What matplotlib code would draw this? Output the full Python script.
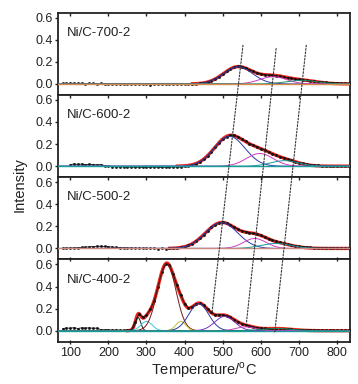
import numpy as np
import matplotlib
matplotlib.use("Agg")
import matplotlib.pyplot as plt
from matplotlib.patches import ConnectionPatch

plt.rcParams['font.family'] = ['Liberation Sans', 'DejaVu Sans']

samples = ["Ni/C-700-2", "Ni/C-600-2", "Ni/C-500-2", "Ni/C-400-2"]
temps = np.arange(80, 850, 10)

# measured TPR signal, one value per 10 degC from 80 to 840
exp_700 = [0.005, 0.004, 0.006, 0.005, 0.004, 0.006, 0.003, 0.005, 0.004, 0.002,
           0.004, 0.003, 0.001, 0.003, 0.002, 0.000, 0.002, 0.001, -0.001, 0.003,
           0.001, -0.002, -0.004, -0.006, -0.003, -0.005, -0.002, -0.004, -0.003, 0.001,
           -0.002, 0.002, -0.003, -0.004, -0.002, 0.002, 0.006, 0.010, 0.018, 0.030,
           0.046, 0.066, 0.090, 0.114, 0.136, 0.152, 0.158, 0.156, 0.145, 0.128,
           0.113, 0.100, 0.090, 0.085, 0.080, 0.078, 0.074, 0.068, 0.062, 0.055,
           0.050, 0.044, 0.040, 0.036, 0.032, 0.028, 0.024, 0.020, 0.018, 0.014,
           0.012, 0.010, 0.009, 0.007, 0.006, 0.005, 0.005]
exp_600 = [np.nan, np.nan, 0.014, 0.020, 0.016, 0.019, 0.013, 0.017, 0.015, 0.012,
           0.014, 0.006, -0.002, -0.006, -0.004, -0.008, -0.006, -0.010, -0.007, -0.011,
           -0.008, -0.012, -0.009, -0.011, -0.008, -0.010, -0.012, -0.009, -0.010, -0.007,
           -0.008, -0.004, 0.002, 0.006, 0.012, 0.022, 0.040, 0.064, 0.094, 0.131,
           0.172, 0.211, 0.244, 0.266, 0.280, 0.278, 0.266, 0.245, 0.224, 0.205,
           0.189, 0.174, 0.160, 0.145, 0.128, 0.113, 0.099, 0.086, 0.074, 0.063,
           0.052, 0.042, 0.033, 0.025, 0.018, 0.013, 0.010, 0.008, 0.006, 0.004,
           0.002, 0.000, -0.002, 0.001, -0.001, 0.000, -0.001]
exp_500 = [0.002, 0.003, 0.004, 0.005, 0.007, 0.009, 0.012, 0.015, 0.017, 0.019,
           0.020, 0.018, 0.016, 0.013, 0.010, 0.008, 0.006, 0.005, 0.004, 0.003,
           0.002, 0.002, 0.001, 0.000, 0.001, -0.001, 0.000, -0.001, 0.000, 0.002,
           0.005, 0.009, 0.016, 0.027, 0.044, 0.066, 0.093, 0.125, 0.159, 0.190,
           0.216, 0.231, 0.236, 0.228, 0.211, 0.193, 0.175, 0.160, 0.150, 0.144,
           0.137, 0.129, 0.118, 0.103, 0.088, 0.075, 0.063, 0.054, 0.046, 0.038,
           0.031, 0.025, 0.020, 0.016, 0.013, 0.010, 0.008, 0.007, 0.006, 0.005,
           0.004, 0.004, 0.003, 0.003, 0.002, 0.002, 0.002]
exp_400 = [0.018, 0.025, 0.022, 0.028, 0.020, 0.026, 0.023, 0.027, 0.021, 0.024,
           0.010, 0.008, 0.009, 0.006, 0.008, 0.005, 0.006, 0.004, 0.010, 0.078,
           0.150, 0.125, 0.142, 0.193, 0.270, 0.395, 0.528, 0.603, 0.596, 0.512,
           0.410, 0.322, 0.245, 0.208, 0.218, 0.240, 0.248, 0.231, 0.196, 0.165,
           0.146, 0.143, 0.143, 0.137, 0.121, 0.101, 0.080, 0.064, 0.053, 0.043,
           0.035, 0.028, 0.024, 0.021, 0.020, 0.019, 0.020, 0.018, 0.017, 0.015,
           0.013, 0.011, 0.009, 0.008, 0.006, 0.005, 0.005, 0.004, 0.004, 0.003,
           0.003, 0.003, 0.002, 0.002, 0.002, 0.002, 0.002]
measured = [exp_700, exp_600, exp_500, exp_400]

# fitted gaussian peaks: centre (degC), height, sigma (degC), colour
peaks_700 = [(540, 0.155, 38, "#2b3aa8"), (632, 0.065, 35, "#d03cc0"), (706, 0.032, 40, "#1d8f6f")]
peaks_600 = [(518, 0.27, 40, "#2b3aa8"), (597, 0.115, 35, "#d03cc0"), (662, 0.05, 36, "#1a9a9a")]
peaks_500 = [(497, 0.234, 42, "#2b3aa8"), (584, 0.09, 30, "#d03cc0"), (640, 0.045, 40, "#1a9a9a")]
peaks_400 = [(278, 0.12, 7, "#1a1a1a"), (300, 0.085, 15, "#3cc8dc"), (353, 0.61, 24, "#7a1515"),
             (390, 0.085, 13, "#c8c030"), (437, 0.245, 26, "#2b3aa8"), (505, 0.13, 26, "#7a30c0"),
             (560, 0.035, 25, "#d03cc0"), (640, 0.02, 40, "#1d8f6f")]
peak_sets = [peaks_700, peaks_600, peaks_500, peaks_400]
fit_start = [420, 380, 360, 250]
baseline_colors = ["#d98c4a", "#1a9a9a", "#c98a84", "#1a9a9a"]

# guide lines: (T, y) in top panel -> (T, y) in bottom panel
guides = [((553, 0.35), (472, 0.17)), ((640, 0.32), (562, 0.07)), ((719, 0.35), (636, -0.025))]

fig, axes = plt.subplots(4, 1, sharex=True, figsize=(3.58, 3.84), dpi=100)
fig.subplots_adjust(left=0.162, right=0.977, top=0.967, bottom=0.110, hspace=0)

tgrid = np.linspace(68, 835, 800)
for ax, name, vals, peaks, t0, bc in zip(axes, samples, measured, peak_sets, fit_start, baseline_colors):
    comps = [h * np.exp(-(tgrid - c) ** 2 / (2 * s ** 2)) for c, h, s, col in peaks]
    total = np.sum(comps, axis=0)
    m = tgrid >= t0
    ax.plot(tgrid[m], total[m], color="#e8241c", lw=2.4, zorder=2)
    ax.plot(temps, vals, color="#111111", lw=0.6, marker="s", ms=0.9, zorder=3)
    for (c, h, s, col), y in zip(peaks, comps):
        ax.plot(tgrid, y, color=col, lw=0.7, zorder=4)
    ax.axhline(0, color=bc, lw=1.0, zorder=5)
    ax.text(0.031, 0.755, name, transform=ax.transAxes, fontsize=9.5, va="center", color="#222222")
    ax.set_ylim(-0.1, 0.645)
    ax.set_yticks([0.0, 0.2, 0.4, 0.6])
    ax.set_yticklabels(["0.0", "0.2", "0.4", "0.6"])
    ax.tick_params(axis="y", direction="out", length=2.5, width=1, labelsize=9, pad=1, colors="#222222")
    ax.tick_params(axis="x", which="major", direction="in", top=True, bottom=False, length=2.5, width=1,
                   labelsize=9, colors="#222222")
    for sp in ax.spines.values():
        sp.set_linewidth(1.3)
        sp.set_color("#222222")

axes[-1].tick_params(axis="x", bottom=True, labelbottom=True, direction="inout", length=3, pad=2)
axes[-1].set_xlim(68, 833)
axes[-1].set_xticks(range(100, 900, 100))

for (p1, p2) in guides:
    con = ConnectionPatch(xyA=p1, coordsA=axes[0].transData, xyB=p2, coordsB=axes[-1].transData,
                          color="#333333", lw=0.8, linestyle=(0, (1.5, 1.5)), zorder=10)
    fig.add_artist(con)

axes[-1].set_xlabel("Temperature/$^{\\mathregular{o}}$C", fontsize=10.5, labelpad=1, color="#222222")
fig.text(0.055, 0.52, "Intensity", rotation=90, fontsize=10.5, ha="center", va="center", color="#222222")

plt.savefig("out.png", dpi=100)
